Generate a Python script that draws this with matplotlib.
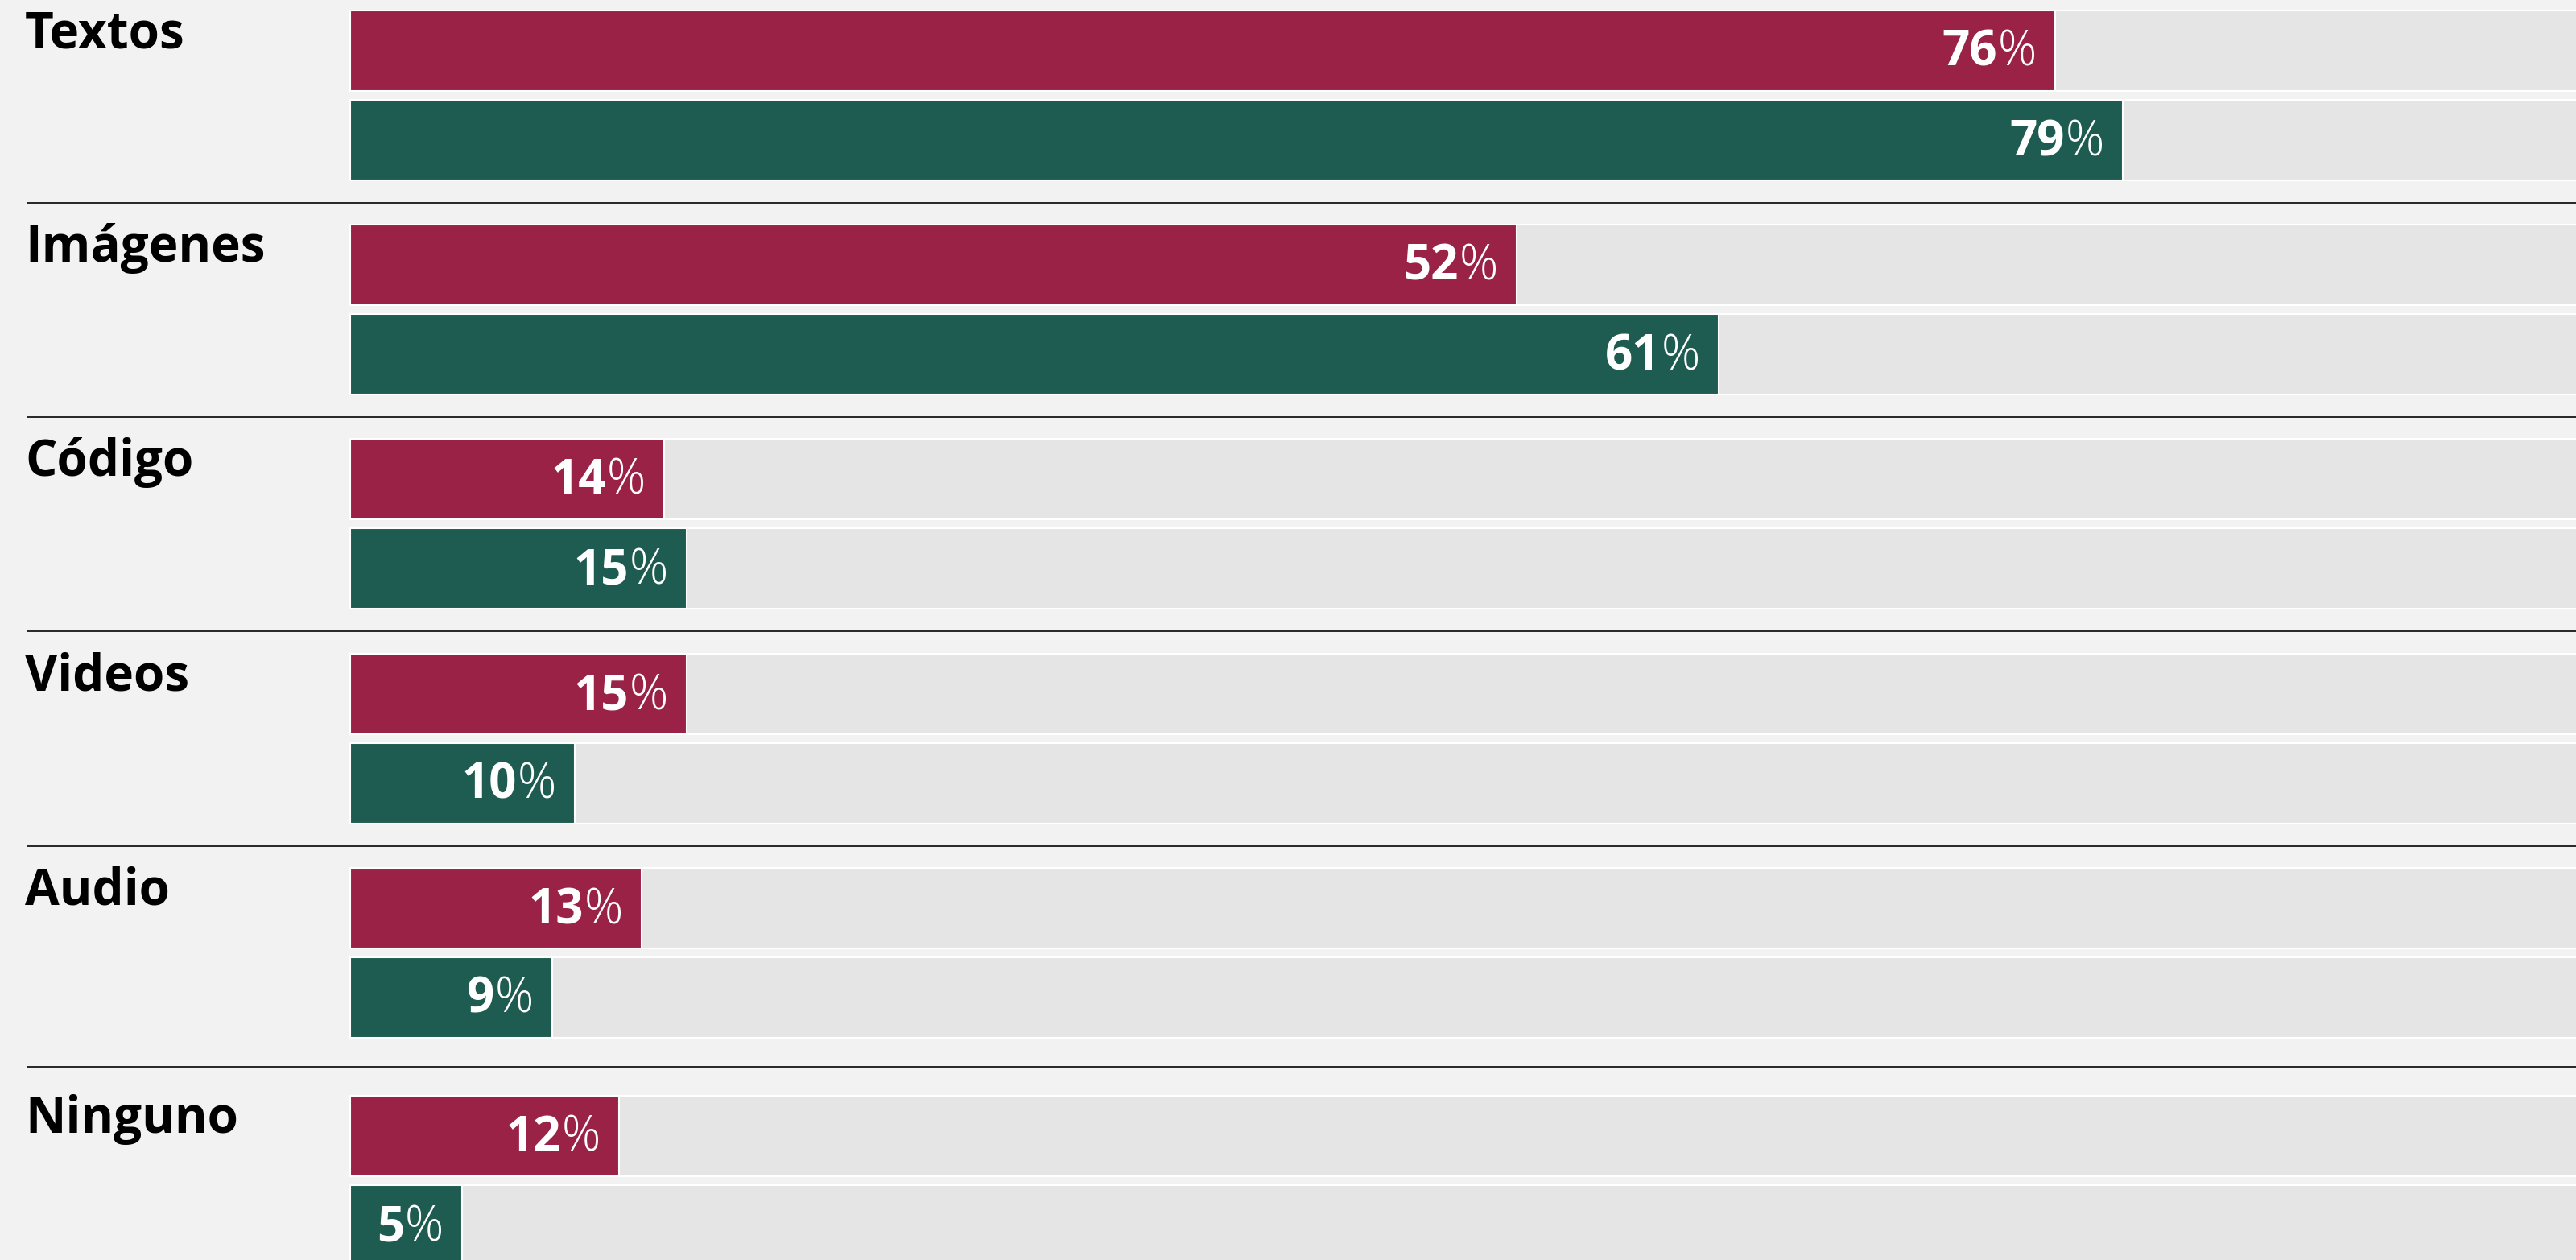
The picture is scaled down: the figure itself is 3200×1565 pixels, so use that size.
import numpy as np
import matplotlib
matplotlib.use('Agg')
from matplotlib import pyplot as plt
from matplotlib import font_manager as fm

# --- DATA ---
categories = ['Textos', 'Imágenes', 'Código', 'Videos', 'Audio', 'Ninguno']
serie_rojo = [76, 52, 14, 15, 13, 12]
serie_verde = [79, 61, 15, 10, 9, 5]

# --- ESTILO ---
W, H, DPI = 3200, 1565, 100
BG = '#f2f2f2'
GRIS = '#e5e5e5'
ROJO = '#9a2246'
VERDE = '#1e5b50'


def familia_con_peso(cands, peso):
    # primera familia instalada que tenga de verdad ese peso
    for c in cands:
        for f in fm.fontManager.ttflist:
            if f.name == c and f.style == 'normal' and abs(int(f.weight) - peso) <= 50:
                return c
    return cands[-1]


BOLD = familia_con_peso(['Open Sans', 'Noto Sans', 'Noto Sans Display', 'Lato', 'Inter'], 700)
LIGHT = familia_con_peso(['Open Sans', 'Noto Sans Devanagari UI', 'Lato', 'Inter'], 300)
FONT_B = [BOLD, 'DejaVu Sans']
FONT_L = [LIGHT, 'DejaVu Sans']

# layout en pixeles (y hacia abajo)
row_tops = [13, 279, 545, 812, 1078, 1361]
bar_h = 100
bar_gap = 11
x0_px = 435          # donde empieza el 0%
px_per_pct = 27.87   # ancho de 1%
fs = 60 * 72 / DPI   # 60 px de alto de fuente
fs_cat = 62 * 72 / DPI

fig = plt.figure(figsize=(W / DPI, H / DPI), dpi=DPI, facecolor=BG)
ax = fig.add_axes([0, 0, 1, 1])
ax.set_facecolor(BG)
ax.set_xlim(-x0_px / px_per_pct, (W - x0_px) / px_per_pct)
ax.set_ylim(H, 0)
ax.axis('off')
xmin, xmax = ax.get_xlim()

renderer = fig.canvas.get_renderer()

# ancho del signo % para poner el numero al lado
tmp = ax.text(0, 0, '%', fontsize=fs, family=FONT_L, fontweight=300)
pct_w = tmp.get_window_extent(renderer).width
tmp.remove()

pad_px = 23

for i, cat in enumerate(categories):
    top = row_tops[i]
    for j, (vals, col) in enumerate([(serie_rojo, ROJO), (serie_verde, VERDE)]):
        y_top = top + j * (bar_h + bar_gap)
        yc = y_top + bar_h / 2
        # barra de fondo
        ax.barh(yc, 120, height=bar_h, left=0, color=GRIS,
                edgecolor='white', linewidth=1.5, zorder=1)
        ax.barh(yc, vals[i], height=bar_h, left=0, color=col,
                edgecolor='white', linewidth=1.5, zorder=2)
        # etiqueta valor: numero en negrita + % fino
        ybase = y_top + 69
        ax.annotate('%', xy=(vals[i], ybase), xytext=(-pad_px * 72 / DPI, 0),
                    textcoords='offset points', ha='right', va='baseline',
                    fontsize=fs, family=FONT_L, fontweight=300,
                    color='white', zorder=3)
        ax.annotate(str(vals[i]), xy=(vals[i], ybase),
                    xytext=(-(pad_px + pct_w + 1) * 72 / DPI, 0),
                    textcoords='offset points', ha='right', va='baseline',
                    fontsize=fs, family=FONT_B, fontweight='bold',
                    color='white', zorder=3)

    # nombre de la categoria
    ax.text(xmin + 31 / px_per_pct, top + 46, cat,
            ha='left', va='baseline', fontsize=fs_cat, family=FONT_B,
            fontweight='bold', color='black')

    # linea separadora
    if i < len(categories) - 1:
        green_bottom = top + 2 * bar_h + bar_gap
        sep_y = (green_bottom + row_tops[i + 1]) / 2
        ax.plot([xmin + 33 / px_per_pct, xmax], [sep_y, sep_y],
                color='#2b2b2b', linewidth=2 * 72 / DPI,
                solid_capstyle='butt', zorder=4)

fig.savefig('out.png', dpi=DPI, facecolor=BG)
